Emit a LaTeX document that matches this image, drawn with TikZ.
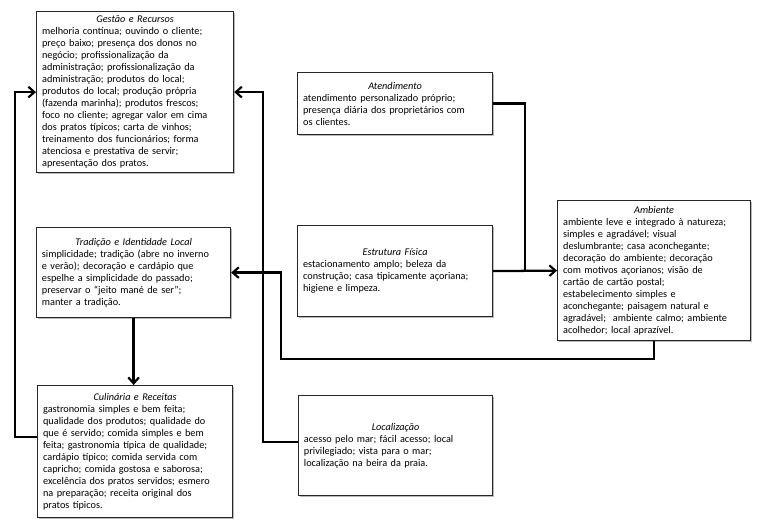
\documentclass[tikz,border=0pt]{standalone}
\usepackage{fontspec}
\setmainfont{Carlito}
\usetikzlibrary{arrows.meta,calc,shadows}
\begin{document}
\begin{tikzpicture}[x=0.75pt,y=-0.75pt,
 box/.style={draw=black!85, line width=0.9pt, fill=white, anchor=north west, inner xsep=3.5pt, inner ysep=2pt, align=left, text=black, font=\fontsize{7.7}{9}\selectfont, drop shadow={shadow xshift=1pt,shadow yshift=-1pt,fill=black!45,opacity=0.6}},
 conn/.style={line width=1.7pt, black},
 arr/.style={conn, -{Straight Barb[length=4.5pt,width=8pt,line width=1.6pt]}}]
\useasboundingbox (0,0) rectangle (766,525);
\newcommand{\btitle}[1]{\makebox[\linewidth]{\itshape #1}\\}

\node[box, minimum width=147.75pt, minimum height=120.75pt, text width=139.5pt] (g) at (36,11) {\btitle{Gestão e Recursos}
melhoria contínua; ouvindo o cliente;\\
preço baixo; presença dos donos no\\
negócio; profissionalização da\\
administração; profissionalização da\\
administração; produtos do local;\\
produtos do local; produção própria\\
(fazenda marinha); produtos frescos;\\
foco no cliente; agregar valor em cima\\
dos pratos típicos; carta de vinhos;\\
treinamento dos funcionários; forma\\
atenciosa e prestativa de servir;\\
apresentação dos pratos.};

\node[box, minimum width=145.5pt, minimum height=67.5pt, text width=137.5pt] (t) at (36,227) {\btitle{Tradição e Identidade Local}
simplicidade; tradição (abre no inverno\\
e verão); decoração e cardápio que\\
espelhe a simplicidade do passado;\\
preservar o “jeito mané de ser”;\\
manter a tradição.};

\node[box, minimum width=146.25pt, minimum height=99pt, text width=138pt] (c) at (37,385) {\btitle{Culinária e Receitas}
gastronomia simples e bem feita;\\
qualidade dos produtos; qualidade do\\
que é servido; comida simples e bem\\
feita; gastronomia típica de qualidade;\\
cardápio típico; comida servida com\\
capricho; comida gostosa e saborosa;\\
excelência dos pratos servidos; esmero\\
na preparação; receita original dos\\
pratos típicos.};

\node[box, minimum width=146.25pt, minimum height=46.5pt, text width=138pt] (a) at (297,72) {\btitle{Atendimento}
atendimento personalizado próprio;\\
presença diária dos proprietários com\\
os clientes.};

\node[box, minimum width=146.25pt, minimum height=68.25pt, text width=138pt] (e) at (297,225) {\btitle{Estrutura Física}
estacionamento amplo; beleza da\\
construção; casa tipicamente açoriana;\\
higiene e limpeza.};

\node[box, minimum width=145.5pt, minimum height=75pt, text width=137.5pt] (l) at (298,395) {\btitle{Localização}
acesso pelo mar; fácil acesso; local\\
privilegiado; vista para o mar;\\
localização na beira da praia.};

\node[box, minimum width=144.75pt, minimum height=105pt, text width=136.5pt] (m) at (557,200) {\btitle{Ambiente}
ambiente leve e integrado à natureza;\\
simples e agradável; visual\\
deslumbrante; casa aconchegante;\\
decoração do ambiente; decoração\\
com motivos açorianos; visão de\\
cartão de cartão postal;\\
estabelecimento simples e\\
aconchegante; paisagem natural e\\
agradável;\ \ ambiente calmo; ambiente\\
acolhedor; local aprazível.};

\coordinate (c1) at ($(c.north west)+(0,52)$);
\draw[arr] (c1) -- ++(-22,0) |- (g.west);
\draw[arr] (t.south) -- (t.south |- c.north);
\coordinate (l1) at ($(l.north west)+(0,47)$);
\draw[arr] (l1) -- ++(-35,0) |- (g.east);
\draw[conn] (a.east) -| ($(e.east)!0.5!(m.west)$);
\draw[arr] (e.east) -- (m.west);
\draw[arr] (m.south) -- ++(0,18) -| ($(t.east)+(50,0)$) -- (t.east);
\end{tikzpicture}
\end{document}
